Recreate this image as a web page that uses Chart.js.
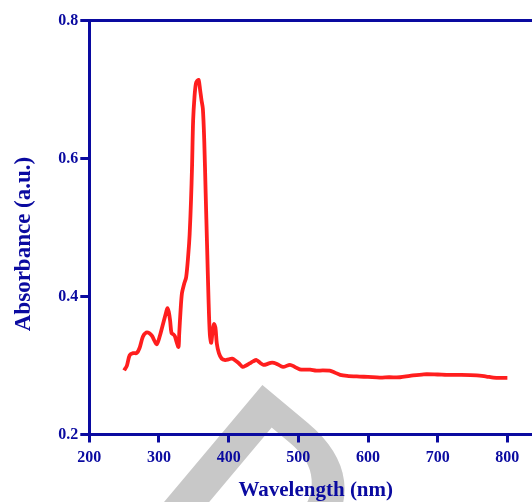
<!DOCTYPE html>
<html>
<head>
<meta charset="utf-8">
<script src="https://cdn.jsdelivr.net/npm/chart.js@4.4.1/dist/chart.umd.min.js"></script>
<style>
  html, body { margin: 0; padding: 0; background: #fff; overflow: hidden; }
  #uv-chart { display: block; }
</style>
</head>
<body>
<canvas id="uv-chart" width="548" height="502"></canvas>
<script>
// UV-Vis spectrum, wavelength in nm
const wavelength = [250, 254, 258, 263, 268, 272, 277, 282, 286, 290, 294, 297, 301, 306, 310, 312, 314, 316, 318, 321,
  323, 325, 328, 329, 331, 333, 336, 339, 342, 344, 346, 347.5, 349, 351, 353, 355, 357, 359, 361, 363,
  365, 367, 369, 371, 373, 375, 377, 379, 381, 383, 386, 390, 395, 400, 405, 410, 415, 420, 425, 430,
  435, 440, 445, 450, 455, 460, 465, 470, 478, 488, 495, 502, 510, 517, 526, 535, 545, 552, 560, 570,
  588, 600, 617, 630, 646, 660, 680, 700, 713, 730, 756, 770, 780, 790, 800];
const absorbance = [0.293, 0.300, 0.315, 0.318, 0.318, 0.325, 0.342, 0.348, 0.347, 0.343, 0.335, 0.331, 0.342, 0.361, 0.376, 0.383, 0.378, 0.365, 0.347, 0.345,
  0.342, 0.335, 0.327, 0.345, 0.380, 0.405, 0.418, 0.428, 0.460, 0.490, 0.540, 0.590, 0.655, 0.690, 0.709, 0.713, 0.714, 0.700, 0.685, 0.672,
  0.625, 0.550, 0.475, 0.400, 0.345, 0.333, 0.350, 0.360, 0.355, 0.332, 0.318, 0.310, 0.308, 0.309, 0.310, 0.307, 0.303, 0.298, 0.300, 0.303,
  0.306, 0.308, 0.304, 0.301, 0.302, 0.304, 0.304, 0.302, 0.298, 0.301, 0.298, 0.2945, 0.294, 0.294, 0.2925, 0.293, 0.2925, 0.290, 0.2865, 0.285,
  0.284, 0.2835, 0.2825, 0.283, 0.283, 0.285, 0.2873, 0.287, 0.2865, 0.2865, 0.2858, 0.284, 0.2825, 0.282, 0.282];
const xTicks = [200, 300, 400, 500, 600, 700, 800];
const yTicks = [0.2, 0.4, 0.6, 0.8];

const navy = '#0a0aa0';
const serif = "'Liberation Serif', 'Times New Roman', serif";

// big grey letter behind everything
const watermark = {
  id: 'watermark',
  beforeDraw(chart) {
    const ctx = chart.ctx;
    ctx.save();
    ctx.translate(144, 501);
    ctx.rotate(40 * Math.PI / 180);
    ctx.fillStyle = '#c8c8c8';
    ctx.font = "bold 240px 'Liberation Sans', Arial, sans-serif";
    ctx.textBaseline = 'alphabetic';
    ctx.fillText('D', 0, 0);
    ctx.restore();
  }
};

// vertical axis title, sits a little below the middle of the axis
const yTitle = {
  id: 'yTitle',
  afterDraw(chart) {
    const ctx = chart.ctx;
    ctx.save();
    ctx.translate(30, 244);
    ctx.rotate(-Math.PI / 2);
    ctx.fillStyle = navy;
    ctx.font = 'bold 23px ' + serif;
    ctx.textAlign = 'center';
    ctx.textBaseline = 'alphabetic';
    ctx.fillText('Absorbance (a.u.)', 0, 0);
    ctx.restore();
  }
};

const tickFont = { family: serif, size: 16, weight: 'bold' };

new Chart(document.getElementById('uv-chart'), {
  type: 'line',
  data: {
    datasets: [{
      data: wavelength.map((w, i) => ({ x: w, y: absorbance[i] })),
      borderColor: 'rgb(255,30,30)',
      borderWidth: 3.8,
      pointRadius: 0,
      tension: 0.3,
      fill: false
    }]
  },
  options: {
    responsive: false,
    animation: false,
    layout: { padding: { top: 20.7, right: 5.8, left: 0, bottom: 0 } },
    plugins: { legend: { display: false }, tooltip: { enabled: false } },
    scales: {
      x: {
        type: 'linear', min: 200, max: 850,
        afterBuildTicks: s => { s.ticks = xTicks.map(v => ({ value: v })); },
        afterFit: s => { s.height = 67.5; },
        grid: { drawOnChartArea: false, tickLength: 8, tickWidth: 3, tickColor: navy },
        border: { color: navy, width: 3 },
        ticks: { color: navy, font: tickFont, padding: 6, maxRotation: 0, autoSkip: false },
        title: {
          display: true, text: 'Wavelength (nm)', color: navy, padding: 0,
          font: { family: serif, size: 21, weight: 'bold', lineHeight: 1.1 }
        }
      },
      xTop: {
        type: 'linear', position: 'top', min: 200, max: 850,
        afterFit: s => { s.height = 0; },
        grid: { display: false },
        ticks: { display: false },
        border: { color: navy, width: 3 }
      },
      y: {
        min: 0.2, max: 0.8,
        afterBuildTicks: s => { s.ticks = yTicks.map(v => ({ value: v })); },
        afterFit: s => { s.width = 89.3; },
        grid: { drawOnChartArea: false, tickLength: 9, tickWidth: 3, tickColor: navy },
        border: { color: navy, width: 3 },
        ticks: { color: navy, font: tickFont, padding: 2, callback: v => v.toFixed(1) }
      }
    }
  },
  plugins: [watermark, yTitle]
});
</script>
</body>
</html>
